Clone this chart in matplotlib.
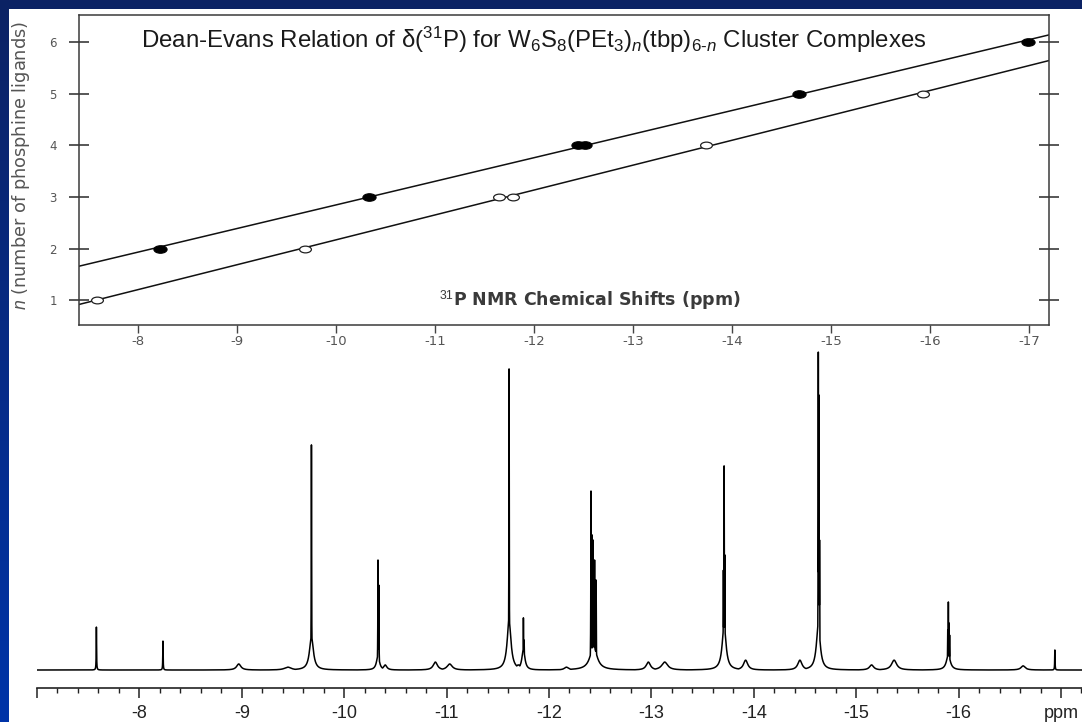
import numpy as np
import matplotlib
matplotlib.use("Agg")
import matplotlib.pyplot as plt
from matplotlib.path import Path
from matplotlib.transforms import Affine2D
from matplotlib.ticker import FixedLocator, MultipleLocator, FixedFormatter
from matplotlib.patches import Rectangle

plt.rcParams["mathtext.fontset"] = "custom"
plt.rcParams["mathtext.rm"] = "Liberation Sans"
plt.rcParams["mathtext.it"] = "Liberation Sans:italic"
plt.rcParams["mathtext.bf"] = "Liberation Sans:bold"

# Dean-Evans correlation: 31P shift of each resonance vs. number of PEt3 ligands
n_pet3 = [2, 3, 4, 4, 5, 6]
shift_pet3 = [-8.22, -10.33, -12.44, -12.51, -14.67, -16.99]
n_tbp = [1, 2, 3, 3, 4, 5]
shift_tbp = [-7.58, -9.68, -11.64, -11.78, -13.73, -15.93]

corr_xticks = [-8, -9, -10, -11, -12, -13, -14, -15, -16, -17]
corr_yticks = [1, 2, 3, 4, 5, 6]

# 31P{1H} NMR spectrum of the mixture: line positions (ppm),
# intensities (% of tallest line) and line widths (ppm)
peak_ppm = [-7.58, -8.23, -8.97, -9.45,
            -9.68, -9.68,
            -10.33, -10.338, -10.33, -10.40,
            -10.89, -11.03,
            -11.61, -11.61, -11.70,
            -11.75, -11.757, -11.75,
            -12.17,
            -12.41, -12.42, -12.43, -12.445, -12.46, -12.435,
            -12.97, -13.13,
            -13.71, -13.717, -13.703, -13.71,
            -13.92, -14.45,
            -14.63, -14.636, -14.642, -14.63,
            -15.15, -15.37,
            -15.90, -15.906, -15.894, -15.912, -15.90,
            -16.63, -16.94]
peak_height = [13.5, 9.1, 1.9, 0.9,
               70.8, 10.5,
               34.6, 26.7, 4.5, 1.6,
               2.5, 1.9,
               94.7, 15.5, 1.6,
               16.4, 9.4, 6.5,
               0.9,
               56.3, 42.5, 40.9, 34.6, 28.3, 7.5,
               2.5, 2.5,
               64.2, 36.2, 31.4, 14.0,
               3.1, 3.1,
               100.0, 86.5, 40.9, 14.0,
               1.6, 3.1,
               21.4, 14.8, 12.6, 11.0, 4.8,
               1.3, 6.3]
peak_fwhm = [0.004, 0.004, 0.05, 0.08,
             0.004, 0.045,
             0.004, 0.004, 0.035, 0.04,
             0.05, 0.06,
             0.004, 0.045, 0.06,
             0.004, 0.004, 0.035,
             0.05,
             0.004, 0.004, 0.004, 0.004, 0.004, 0.08,
             0.05, 0.07,
             0.004, 0.004, 0.004, 0.045,
             0.05, 0.05,
             0.004, 0.004, 0.004, 0.045,
             0.05, 0.06,
             0.004, 0.004, 0.004, 0.004, 0.045,
             0.05, 0.004]

spec_major = [-7, -8, -9, -10, -11, -12, -13, -14, -15, -16, -17]
spec_labels = ["", "-8", "-9", "-10", "-11", "-12", "-13", "-14", "-15", "-16", "ppm"]

W, H = 1082, 722
fig = plt.figure(figsize=(W / 100, H / 100), dpi=100)

# slide background: blue gradient with a white panel
bg = fig.add_axes([0, 0, 1, 1], zorder=-10)
grad = np.linspace(0, 1, 256)[:, None]
top_c = np.array([12, 34, 100]) / 255
bot_c = np.array([0, 52, 168]) / 255
img = top_c[None, None, :] * (1 - grad[:, :, None]) + bot_c[None, None, :] * grad[:, :, None]
bg.imshow(img, aspect="auto", extent=[0, 1, 0, 1], origin="upper")
bg.add_patch(Rectangle((9 / W, 0), 1 - 9 / W, 1 - 9 / H, facecolor="white",
                       edgecolor="none", transform=bg.transAxes))
bg.set_xlim(0, 1)
bg.set_ylim(0, 1)
bg.axis("off")

# ---------------- correlation plot ----------------
ax = fig.add_axes([79 / W, (H - 325) / H, (1049 - 79) / W, (325 - 15) / H])
ax.set_facecolor("none")
ax.set_xlim(-7.4, -17.2)
ax.set_ylim(0.52, 6.52)

xfit = np.array(ax.get_xlim())
for xs, ns in ((shift_pet3, n_pet3), (shift_tbp, n_tbp)):
    k, b = np.polyfit(xs, ns, 1)
    ax.plot(xfit, k * xfit + b, color="#111111", lw=1.1, zorder=2)

ellipse = Path.unit_circle().transformed(Affine2D().scale(1.75, 1.0))
ax.plot(shift_pet3, n_pet3, ls="none", marker=ellipse, ms=9.5, mfc="black",
        mec="black", mew=0.8, zorder=3)
ax.plot(shift_tbp, n_tbp, ls="none", marker=ellipse, ms=8.5, mfc="white",
        mec="#222222", mew=0.9, zorder=3)

for s in ax.spines.values():
    s.set_color("#3a3a3a")
    s.set_linewidth(1.1)

ax.xaxis.set_major_locator(FixedLocator(corr_xticks))
ax.xaxis.set_major_formatter(FixedFormatter([f"-{abs(v)}" for v in corr_xticks]))
ax.tick_params(axis="x", direction="out", length=6, width=1.0, color="#444444",
               labelsize=9.5, labelcolor="#555555", pad=1)
ax.yaxis.set_major_locator(FixedLocator(corr_yticks))
ax.yaxis.set_major_formatter(FixedFormatter([str(v) for v in corr_yticks]))
ax.tick_params(axis="y", which="major", direction="inout", length=14, width=1.1,
               color="#2a2a2a", labelsize=8.5, labelcolor="#555555", pad=9,
               left=True, right=True, labelleft=True)
for lab in ax.get_xticklabels() + ax.get_yticklabels():
    lab.set_family("DejaVu Sans")

ax.text(0.4686, 0.919,
        r"Dean-Evans Relation of δ($^{31}$P) for W$_{6}$S$_{8}$(PEt$_{3}$)$_{n}$(tbp)$_{\mathit{6}\text{-}n}$ Cluster Complexes",
        transform=ax.transAxes, ha="center", va="center", fontsize=17.3,
        family="Liberation Sans", color="#1a1a1a")
ax.text(0.527, 0.081, r"$^{31}$P NMR Chemical Shifts (ppm)", transform=ax.transAxes,
        ha="center", va="center", fontsize=12.5, family="DejaVu Sans",
        weight="bold", color="#3a3a3a")
fig.text(21 / W, 1 - 165 / H, r"$n$ (number of phosphine ligands)", rotation=90,
         ha="center", va="center", fontsize=12.8, family="DejaVu Sans",
         color="#555555")

# ---------------- NMR spectrum ----------------
sp = fig.add_axes([37 / W, (H - 688) / H, 1 - 37 / W, (688 - 340) / H])
sp.set_facecolor("none")
sp.set_xlim(-7.0, -17.205)
sp.set_ylim(-5.66, 103.8)

ppm = np.arange(-7.0, -17.21, -0.0005)
pos = np.asarray(peak_ppm)[:, None]
hgt = np.asarray(peak_height)[:, None]
hw = np.asarray(peak_fwhm)[:, None] / 2
lines = hgt * hw ** 2 / ((ppm[None, :] - pos) ** 2 + hw ** 2)
spectrum = lines.max(axis=0)
sp.plot(ppm, spectrum, color="black", lw=1.1)

for side in ("top", "left", "right"):
    sp.spines[side].set_visible(False)
sp.spines["bottom"].set_color("#222222")
sp.spines["bottom"].set_linewidth(1.2)
sp.set_yticks([])
sp.xaxis.set_major_locator(FixedLocator(spec_major))
sp.xaxis.set_major_formatter(FixedFormatter(spec_labels))
sp.xaxis.set_minor_locator(MultipleLocator(0.2))
sp.tick_params(axis="x", which="major", direction="out", length=7.5, width=1.1,
               color="#222222", labelsize=13, labelcolor="#222222", pad=5)
sp.tick_params(axis="x", which="minor", direction="out", length=3.8, width=1.0,
               color="#222222")
for lab in sp.get_xticklabels():
    lab.set_family("Liberation Sans")

fig.savefig("out.png", dpi=100)
